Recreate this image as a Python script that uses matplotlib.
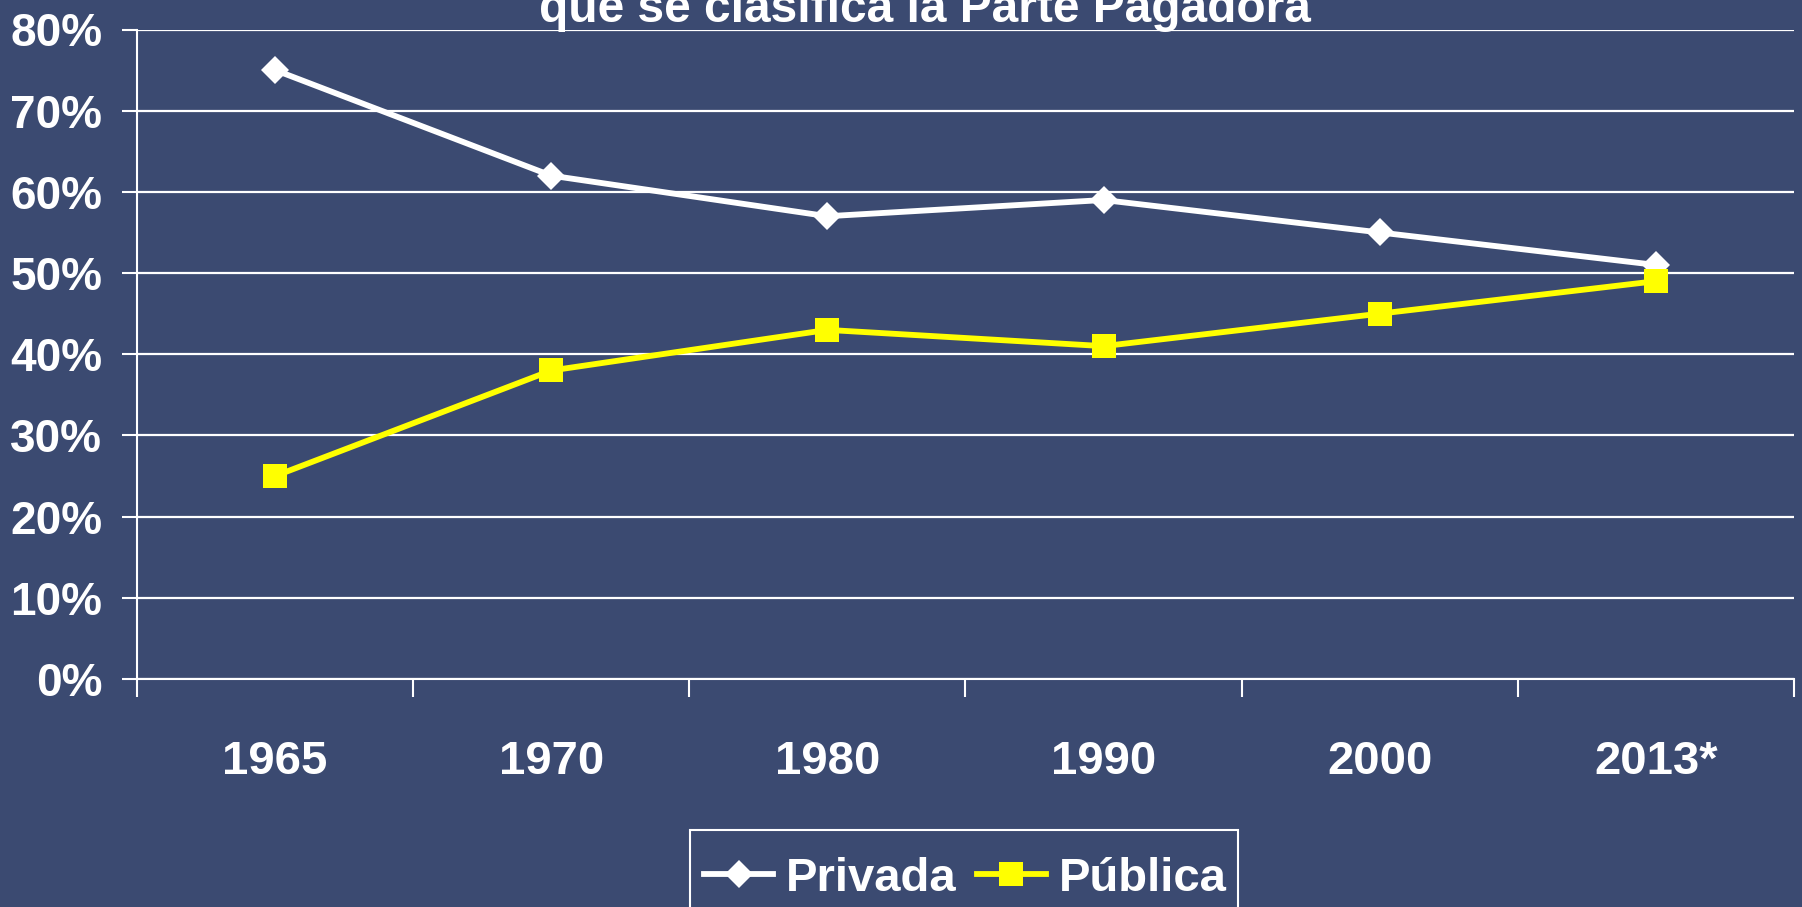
import matplotlib
matplotlib.use("Agg")
import matplotlib.pyplot as plt
from matplotlib.patches import Rectangle

# --- data ---
years = ["1965", "1970", "1980", "1990", "2000", "2013*"]
privada = [0.75, 0.62, 0.57, 0.59, 0.55, 0.51]
publica = [0.25, 0.38, 0.43, 0.41, 0.45, 0.49]
y_ticks = [0.0, 0.1, 0.2, 0.3, 0.4, 0.5, 0.6, 0.7, 0.8]
y_labels = ["0%", "10%", "20%", "30%", "40%", "50%", "60%", "70%", "80%"]
title_line = "que se clasifica la Parte Pagadora"

bg = "#3b4a71"
W, H = 1802, 907
plt.rcParams["font.family"] = ["Liberation Sans", "DejaVu Sans"]
plt.rcParams["font.weight"] = "bold"

fig = plt.figure(figsize=(W / 100, H / 100), dpi=100, facecolor=bg)
ax = fig.add_axes([137 / W, 1 - 679 / H, (1794 - 137) / W, (679 - 29.5) / H])
ax.set_facecolor(bg)

x = list(range(len(years)))
ax.plot(x, privada, color="white", lw=4.2, marker="D", ms=14,
        mfc="white", mec="white", mew=0, label="Privada", clip_on=False, zorder=3)
ax.plot(x, publica, color="#ffff00", lw=4.2, marker="s", ms=17.5,
        mfc="#ffff00", mec="#ffff00", mew=0, label="Pública", clip_on=False, zorder=4)

ax.set_xlim(-0.5, len(years) - 0.5)
ax.set_ylim(0, 0.8)

# y axis: gridlines every 10 %
ax.set_yticks(y_ticks)
ax.set_yticklabels(y_labels, fontsize=33, color="white", fontweight="bold")
ax.tick_params(axis="y", length=11, width=1.5, color="white", pad=14)
ax.grid(axis="y", color="white", lw=1.6, zorder=1)

# x axis: ticks between categories, labels centred
ax.set_xticks([i - 0.5 for i in range(len(years) + 1)])
ax.set_xticklabels([])
ax.set_xticks(x, minor=True)
ax.set_xticklabels(years, minor=True, fontsize=34, color="white", fontweight="bold")
ax.tick_params(axis="x", which="major", length=13, width=1.5, color="white")
ax.tick_params(axis="x", which="minor", length=0, pad=44)

for s in ["top", "right"]:
    ax.spines[s].set_visible(False)
for s in ["left", "bottom"]:
    ax.spines[s].set_color("white")
    ax.spines[s].set_linewidth(1.5)

# title: only its second line is inside the picture
fig.text(925 / W, 1 - 22 / H, title_line, ha="center", va="baseline",
         fontsize=34.5, color="white", fontweight="bold")

# legend frame runs off the bottom edge, so draw it by hand
fig.patches.append(Rectangle((690 / W, 1 - 940 / H), (1238 - 690) / W, (940 - 830) / H,
                             transform=fig.transFigure, facecolor=bg,
                             edgecolor="white", lw=1.5, zorder=0))
leg = fig.legend(loc="center left", bbox_to_anchor=(690 / W, 1 - 879 / H),
                 ncol=2, fontsize=34, frameon=False,
                 borderpad=0.3, handlelength=1.46, handletextpad=0.28,
                 columnspacing=0.42, borderaxespad=0)
for t in leg.get_texts():
    t.set_color("white")
    t.set_fontweight("bold")

fig.savefig("out.png", dpi=100, facecolor=bg)
